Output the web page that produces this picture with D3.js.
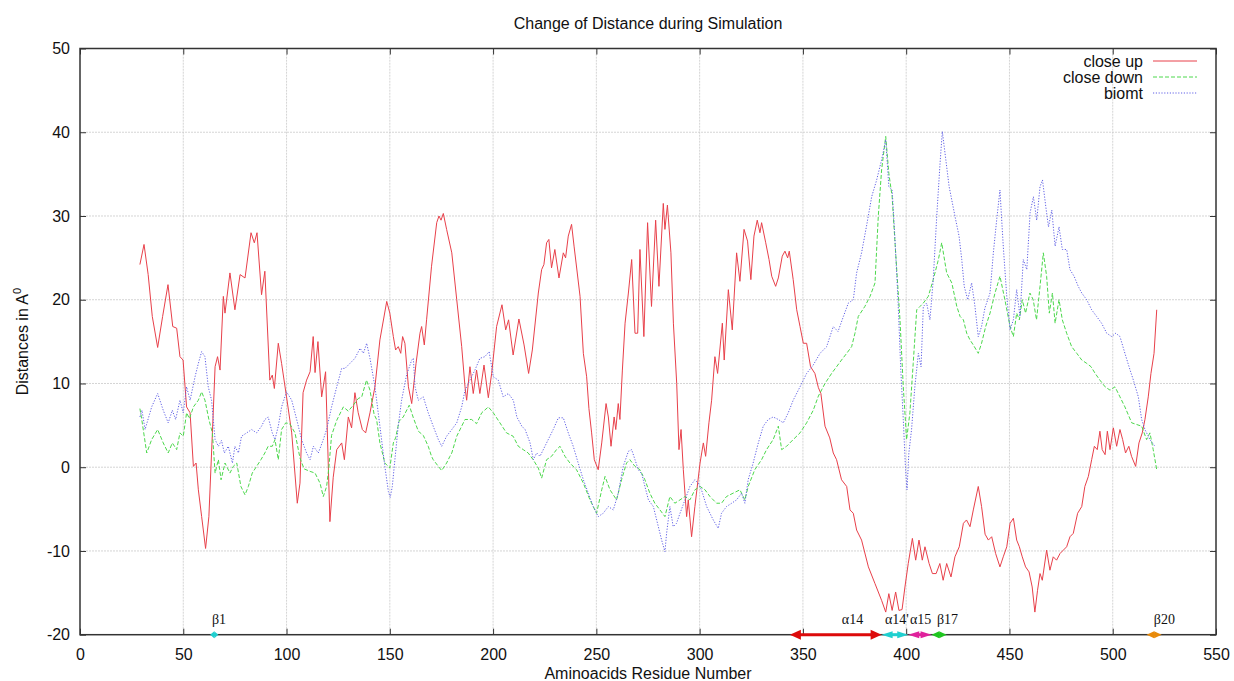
<!DOCTYPE html>
<html>
<head>
<meta charset="utf-8">
<script src="https://cdn.jsdelivr.net/npm/d3@7"></script>
<style>
  body { margin: 0; background: #ffffff; }
  svg { display: block; }
  text { font-family: "Liberation Sans", Arial, sans-serif; fill: #111; }
  .ss-label { font-family: "Liberation Serif", "Times New Roman", serif; font-size: 14px; }
</style>
</head>
<body>
<div class="content"></div>
<script>
// residue number, distance (A)
const closeUp = [
  [29,24.2],[31,26.6],[33,23],[35,18],[37.6,14.3],[40,18],[42.6,21.8],[44.9,16.8],[46.8,16.6],[48.4,13.2],[49.9,12.8],
  [51.6,7.2],[53.3,6.5],[54.9,0.1],[56.2,0.5],[57.3,-2.7],[58.9,-5.9],[60.8,-9.7],[62.4,-5.9],[64.1,4.1],[65.4,12],
  [66.6,13.2],[67.8,11.6],[69.4,20.4],[70.2,18.4],[72.6,23.2],[75,18.8],[77.5,23],[79.9,22.6],[82.8,28],[84.4,26.8],
  [85.7,28],[87.9,20.6],[89.5,23.4],[91.9,10.4],[93.1,11],[94.1,9.4],[96,14.8],[97.6,12.4],[100,8.4],[102.5,4.1],
  [105.2,-4.3],[106.5,-1.9],[108,8.9],[109.7,10.4],[111.4,11.4],[112.9,15.6],[113.8,11.3],[115.2,15],[117,8.4],
  [118.9,11.4],[121,-6.5],[122.6,-1.2],[124.3,2.1],[126.7,2.9],[128,0.9],[129.9,6],[131.5,4.7],[133.1,8.9],[134.7,6.5],
  [136.7,4.5],[138.3,4.1],[140.4,6.5],[142.8,9.6],[145.2,15.2],[148.5,19.8],[150,18.4],[151.7,15.6],[152.8,14],
  [154.1,14.4],[155.3,13.6],[156.2,15.6],[157.3,14.8],[159,9.6],[160.6,7.6],[162.7,12.4],[164.6,16],[165.4,16.8],
  [166.7,14.6],[167.8,17.6],[170.2,24],[172.7,29.2],[173.8,30],[174.8,29.5],[175.9,30.3],[177.5,28.4],[180,25.6],
  [182.4,20],[184.8,14.4],[186.4,9.6],[187.2,8],[188.8,12],[190.4,8.8],[192,11.6],[193.6,8.8],[195.6,12.2],[197.7,8.3],
  [199.3,11.2],[201.7,16.8],[204.3,19.4],[206.1,16.4],[207.5,17.6],[209.7,13.4],[212.5,17.7],[215,14.6],[217.2,11.2],
  [219,14],[221.9,20.8],[223.5,23.6],[224.6,24.2],[225.9,26.8],[227,27.2],[228.3,23.8],[229.9,26],[231.9,22.6],
  [234,25.6],[235.1,25],[236.4,27.6],[238,29],[239.2,26.4],[242.1,20.4],[243.7,13.6],[245.3,10.8],[246.4,7],
  [247.7,4.1],[249,0.9],[250.9,-0.3],[252.6,2.9],[254.7,7.6],[255.8,6],[257.1,2.5],[258.6,6],[259.4,4.5],[260.6,7.6],
  [261.4,5.7],[262.6,11.6],[263.9,17.2],[265.5,20.8],[267.1,24.8],[268.7,16],[270,16],[271.1,26],[273,15.6],
  [274.8,29.2],[276.7,19.2],[278.7,29.5],[280.3,21.6],[282.4,31.5],[283.2,28.4],[284.4,31.3],[286.1,25.6],[287.3,17.2],
  [288.9,10],[290,2.1],[291,4.5],[292.1,-0.3],[293.7,-5.9],[294.5,-3.9],[296.1,-8.3],[297.7,-4.7],[300.2,0.5],
  [301.8,2.9],[302.9,1.3],[304.5,5.3],[305.8,8],[307.4,13.2],[308.7,11.2],[311,17.2],[311.9,12.8],[313.9,21.2],
  [315.8,16.4],[317.9,25.6],[319.5,22.2],[321.5,28.4],[323.2,27],[324.8,22.4],[326.3,27.6],[327.9,29.5],[329.2,28],
  [330,29.2],[332,26.8],[333.6,24.8],[334.9,22.8],[336.8,21.6],[338.1,22.6],[340,25.2],[341.3,25.8],[342.6,25],
  [343.4,25.8],[345.3,22.4],[347,18.8],[348.6,16.8],[350.2,14.8],[351.8,14.8],[353.7,12],[355.8,11.2],[357.5,9.5],
  [358.7,8.8],[360.7,4.9],[363,3.5],[364.7,1.7],[366.3,0.9],[368.7,-1.5],[371.2,-2.3],[372.8,-5.1],[374.4,-5.5],
  [376,-7.5],[378.4,-8.7],[381.7,-11.9],[384.9,-13.9],[388.1,-15.9],[390.1,-17.3],[391.6,-15.1],[393.2,-17.1],
  [394.9,-14.9],[396.5,-17.1],[398,-17],[399.4,-14.3],[401,-11.5],[403,-8.5],[404.6,-11.1],[406.2,-8.7],[407.8,-11.1],
  [409.1,-9.5],[411.1,-11.5],[412.7,-12.7],[414.5,-12.7],[416.3,-11.5],[417.9,-13.5],[419.6,-11.5],[421.7,-13.1],
  [423.6,-10.7],[425.7,-9.5],[427.7,-6.7],[429.2,-6.3],[430.9,-7.1],[432.5,-5.1],[434.9,-2.3],[436.5,-4.7],[438.2,-8],
  [439.8,-8.7],[441.4,-8.3],[443.3,-10.3],[445.4,-11.9],[447,-10.7],[448.7,-9.5],[450.3,-6.7],[451.9,-6.1],[453.5,-8.7],
  [454.8,-9.5],[456.2,-10.7],[457.8,-11.9],[459.5,-12.5],[461,-14.3],[462.3,-17.3],[463.6,-14.7],[464.8,-12.7],
  [465.9,-13.5],[468,-9.9],[469.6,-12.3],[471.2,-10.7],[472.8,-11.1],[474.5,-10.3],[476.1,-9.9],[477.7,-9.5],
  [479.3,-8.3],[480.9,-7.9],[483,-5.5],[485,-4.7],[486.5,-2.3],[488.2,-1.1],[489.8,0.9],[491.1,2.5],[492.5,2.1],
  [493.8,4.3],[494.9,2.1],[496.3,1.5],[497.4,4.3],[498.7,2.1],[500.3,4.7],[501.9,2.5],[503.5,4.5],[504.8,3.3],
  [506.2,1.7],[507.8,2.5],[509.1,1.3],[511.1,0.1],[512.7,2.9],[514.3,4.1],[515.6,5.7],[517.2,8.4],[518.5,11.2],
  [520,13.6],[521.3,18.8]
];

const closeDown = [
  [29,7],[29.9,5.7],[32.3,1.7],[34.7,3.3],[37.6,4.5],[40.3,2.9],[42.7,1.7],[44.7,2.9],[46.8,2.1],[48.4,4.1],[50,3.7],
  [51.6,6.5],[53,5.8],[54.9,7.2],[57.3,8],[58.9,9],[60.5,8],[62.4,5.7],[64.1,4.1],[65.4,-0.7],[67,0.9],[68.3,-1.5],
  [70.2,0.5],[72.6,-0.7],[74.2,0.1],[75.9,0.5],[77.9,-2.3],[79.9,-3.3],[81.5,-2.3],[83.4,-0.7],[85.5,0.1],[87.6,0.9],
  [89.5,1.7],[91.1,2.5],[93.1,2.5],[94.4,3.3],[96,0.9],[97.6,4.5],[99.6,5.3],[101.5,5.2],[104.1,4.1],[106.5,1.1],
  [108.5,-0.2],[111.4,-0.5],[113.8,-0.7],[116.2,-1.9],[117.8,-3.5],[119.4,-2.3],[120.5,0],[121.8,3.8],[124.3,5.6],
  [127.5,7.2],[129.9,6.7],[132.3,7.4],[134.7,8.2],[136.4,8.4],[138.7,10.4],[140.4,9.2],[142.4,6.3],[143.6,5.7],
  [145.2,2.9],[147.6,0.5],[150,-0.1],[151.7,2.9],[152.8,3.5],[154.5,5.5],[156.5,6],[159.4,7.4],[161.4,5.9],
  [163.8,4.3],[166.2,3.8],[168.6,2.5],[170.2,1.3],[171,0.9],[173.5,0.1],[175.1,-0.4],[177.5,0.5],[179.1,1.3],[180,1.7],
  [182.4,3.7],[184.8,4.9],[186.4,5.7],[189.6,5.7],[192,5.2],[194.5,6.5],[197.7,7.2],[200.1,6.5],[203.3,5.3],
  [206.5,4.1],[209.7,3.7],[212.2,2.5],[214.6,2.1],[217,1.7],[219.4,0.9],[221.9,-0.1],[223.5,-1.3],[225.9,0.9],
  [228.3,1.3],[230.7,2.1],[232.4,2.5],[234.8,1.3],[237.2,0.5],[240.4,-0.3],[243.7,-1.9],[246.9,-3.9],[250.1,-5.5],
  [252.6,-2.7],[254.2,-1.1],[256.6,-2.7],[259.8,-3.9],[262.2,-1.5],[264.6,0.5],[266.2,0.9],[268.7,0.1],[271.1,-0.3],
  [273.5,-1.5],[275.9,-3.1],[278.3,-4.3],[280.8,-5.1],[283.2,-5.9],[285.6,-3.5],[288,-4.3],[290.5,-3.9],[292.9,-3.5],
  [295.3,-3.9],[297.7,-2.7],[300.2,-2.3],[302.6,-2.7],[305,-3.5],[308.2,-4.3],[310.6,-4.3],[313,-3.5],[316.2,-3.1],
  [319.5,-2.7],[321.9,-3.9],[323.5,-2.3],[326.7,-0.3],[330,0.9],[332.4,2.1],[335.6,3.3],[338.1,4.9],[339.7,2.1],
  [342.1,2.5],[345.3,3.3],[348.6,4.1],[351.8,5.3],[355,6.8],[357.5,8.5],[360.7,10],[363.9,11.2],[366.3,12],
  [368.7,12.8],[371.2,13.6],[373.6,14.4],[375.2,16],[376.8,18],[380,19.2],[382.5,20.4],[384.9,22],[386.5,30],
  [388.1,35.5],[390.1,39.5],[391.6,35.1],[393.2,32.3],[394.9,25.6],[397,17.6],[398.6,9.6],[400.2,3.3],[401.8,6.5],
  [403.4,12.4],[405.1,18.8],[406.7,19.2],[408.3,19.6],[410.7,20.4],[413.1,22.4],[415.6,24.8],[417.2,26.8],[419.6,23.2],
  [422.1,22],[424.5,19.2],[426.1,18],[427.7,17.6],[429.3,16],[430.9,15.2],[432.5,14.6],[434.9,13.6],[436.5,14.8],
  [438.5,16.8],[440.6,18.4],[443,20.8],[445.4,22.8],[447.8,20],[450.3,16.8],[451.9,15.6],[453.5,18.4],[454.8,17.6],
  [456.2,20],[457.8,18.4],[459.9,20.8],[461.5,20],[463.1,17.6],[464.8,21.6],[466.4,25.6],[468,22.8],[469.3,18.4],
  [470.8,20.8],[472.1,17.2],[474,20],[475.6,17.6],[477.7,16],[480.1,14.4],[482.6,13.6],[485,12.8],[487.4,12.4],
  [489.5,12],[491.5,11.2],[493.8,10.4],[496.3,9.6],[498.7,9.2],[501.1,9.6],[503.5,8.4],[505.9,7.2],[509.2,5.3],
  [511.6,5.1],[514,4.9],[516.4,3.3],[518,4.1],[519.6,2.1],[521.3,-0.3]
];

const biomt = [
  [29,6],[30,6.8],[31.5,4.5],[34.7,7.2],[37.6,8.8],[40.3,6.8],[42.7,5.3],[44.7,6.8],[46.3,5.7],[48.4,8],[50,6.5],
  [51.6,9.6],[53.3,8],[55.7,10.8],[57.3,12.4],[58.9,13.8],[60.5,13.2],[62.1,9.6],[63.7,8],[65.4,3.3],[67,2.5],
  [68.5,3.2],[69.9,1.7],[71.8,2.5],[73.8,0.5],[75,2.5],[76.7,1.7],[78.2,3.7],[80.7,4.1],[83.1,4.5],[85.5,4.1],
  [87.9,4.9],[89.5,5.7],[91.1,6],[93.1,4.1],[94.4,3.3],[96,4.9],[97.6,7.2],[100,9],[102.5,8],[104.9,5.7],[107.3,3.3],
  [109.7,1.7],[111.4,0.9],[113,2.5],[115.4,1.7],[117.8,3.3],[119.4,4.5],[121.8,7.2],[124.3,9.6],[126.7,11.8],
  [128.3,11.8],[130.7,12.4],[133.1,13],[135.6,14.2],[137.2,13.6],[138.8,14.8],[140.4,13],[142.8,9.6],[145.2,4.9],
  [147.6,0.1],[149.3,-2.9],[150.2,-3.6],[151.2,-2.3],[152.5,1],[154.1,5],[155.7,8],[158.1,11],[160.6,12.8],
  [161.4,13],[162.2,9.6],[163.8,8],[166.2,8.4],[168.6,6.5],[171,4.9],[173.5,3.3],[175.1,2.5],[177.5,3.7],[180,4.5],
  [182.4,5.3],[184.8,7.2],[186.4,9.2],[188.8,10.4],[191.2,11.6],[193.6,13],[196,13.2],[198.1,13.8],[200.1,10.8],
  [202.5,10.4],[204.9,8.4],[207.4,8.8],[209.8,8],[211.5,6],[213.9,4.9],[215.5,4.5],[217.9,2.9],[219.5,0.9],
  [221.1,1.7],[222.7,1.3],[225.9,2.9],[229.1,4.5],[231.6,5.9],[234,5.9],[236.4,4.1],[238.8,2.5],[241.2,0.5],
  [243.7,-1.5],[246.1,-3.1],[248.5,-4.7],[250.9,-5.9],[253.3,-5.5],[255.8,-4.7],[258.2,-5.1],[260.6,-3.1],[263,0.1],
  [265.5,1.9],[267.1,2.1],[268.7,0.9],[270.3,-0.3],[272,-0.8],[273.5,-2.3],[275.2,-3.9],[277.6,-4.7],[280,-7.1],
  [281.6,-8.7],[283.2,-10.1],[284,-7.9],[285.6,-4.7],[287.2,-7.1],[288.8,-6.7],[290.5,-5.5],[292.9,-3.9],[295.3,-2.3],
  [297.7,-1.5],[299.3,-1.9],[300.9,-2.7],[303.4,-4.7],[306.6,-6.3],[309,-7.3],[310.6,-5.5],[313,-4.7],[315.5,-4.3],
  [317.9,-3.9],[320.3,-3.1],[321.9,-4.3],[323.5,-1.5],[325.9,0.5],[328.4,2.9],[330.8,4.9],[333.2,5.7],[335.6,6],
  [338.1,5.7],[340.5,5.3],[342.9,6.5],[345.3,8],[348.6,9.6],[351.8,11.2],[355,12.2],[358.3,13.6],[361.5,14.4],
  [364.7,16.8],[367,16.2],[369.6,18],[372,19.6],[374.4,20],[376,23.2],[378.4,25.6],[380.8,28.8],[383.3,32.3],
  [385.7,34.3],[388.1,36.7],[390.1,39.1],[391.6,33.5],[393.2,33.1],[394.5,27.6],[396.1,19.6],[397.4,11.6],[398.6,5.7],
  [399.7,-0.3],[400.4,-2.7],[401.3,1.7],[402.6,4.5],[404.2,9.6],[405.9,13.6],[407.2,12],[408.3,19.2],[409.9,19.6],
  [411.5,17.6],[413.1,22.4],[414.8,30],[416.4,36.3],[417.5,40.1],[419.2,36.7],[420.8,33.5],[422.4,31.5],[424,29.5],
  [425.6,27.6],[426.9,24.8],[428.1,21.6],[429.8,20],[431.7,22],[433.3,19.2],[434.9,15.6],[436.5,16.8],[438.1,19],
  [440.6,20.8],[442.2,25.6],[443.8,29.5],[445.4,33.1],[447,26.4],[448.7,20.4],[450.3,16.4],[451.9,17.6],[453.5,21.2],
  [455.1,18],[456.7,24.8],[458.4,23.6],[460,30.4],[461.6,32.3],[463.2,29.5],[464.8,33.5],[466,34.3],[467.6,31.1],
  [468.9,28.7],[470.5,30.7],[472.1,26.4],[474,28.7],[475.6,26],[477.7,26],[479.3,23.6],[481.3,22.8],[483.3,21.6],
  [485,20.8],[487.4,20],[489.8,18.8],[492.2,18],[494.6,17.2],[497.1,16],[499.5,15.6],[501.5,16],[503.5,15.6],
  [505.9,13.6],[508.4,11.6],[510,10.4],[512.4,8.4],[514,5.7],[515.6,4.5],[518,3.3],[520.4,2.5]
];

const seriesNames = ["close up", "close down", "biomt"];
const xTicks = [0, 50, 100, 150, 200, 250, 300, 350, 400, 450, 500, 550];
const yTicks = [-20, -10, 0, 10, 20, 30, 40, 50];

// secondary structure elements along the residue axis
const ssNames = ["β1", "α14", "α14'", "α15", "β17", "β20"];
const ssStart = [63, 343.7, 388.1, 401, 412.3, 516.4];
const ssEnd = [67, 388.1, 401, 412.3, 419.6, 523.7];
const ssLabelAt = [67.3, 374, 395.5, 407, 420, 525];

const width = 1234;
const height = 681;
const margin = { top: 48.5, right: 18, bottom: 46.3, left: 80 };

const colors = ["#e8404a", "#4cd84c", "#6060e6"];
const dashes = [null, "4,2", "1.2,1.6"];
const ssColors = ["#1fcfcf", "#dd0a0a", "#1fcfcf", "#e0219c", "#1fc61f", "#e88a0a"];

const svg = d3.select(".content").append("svg")
    .attr("width", width)
    .attr("height", height);

const x = d3.scaleLinear().domain([0, 550]).range([margin.left, width - margin.right]);
const y = d3.scaleLinear().domain([-20, 50]).range([height - margin.bottom, margin.top]);

// grid
svg.append("g")
    .selectAll("line")
    .data(xTicks.slice(1, -1))
    .join("line")
    .attr("x1", d => x(d)).attr("x2", d => x(d))
    .attr("y1", y(-20)).attr("y2", y(50))
    .attr("stroke", "#c9c9c9")
    .attr("stroke-width", 0.8)
    .attr("stroke-dasharray", "2,1");

svg.append("g")
    .selectAll("line")
    .data(yTicks.slice(1, -1))
    .join("line")
    .attr("x1", x(0)).attr("x2", x(550))
    .attr("y1", d => y(d)).attr("y2", d => y(d))
    .attr("stroke", "#c9c9c9")
    .attr("stroke-width", 0.8)
    .attr("stroke-dasharray", "2,1");

// axes, gnuplot style: ticks inside, mirrored, plain hyphen minus
const tickLen = 6;
const plain = d => String(d);
svg.append("g")
    .attr("transform", `translate(0,${y(-20)})`)
    .call(d3.axisBottom(x).tickValues(xTicks).tickSize(-tickLen).tickPadding(14).tickFormat(plain))
    .call(g => g.select(".domain").remove())
    .call(g => g.selectAll("text").attr("font-size", 16).attr("font-family", "Liberation Sans, Arial, sans-serif").attr("fill", "#111"));

svg.append("g")
    .attr("transform", `translate(0,${y(50)})`)
    .call(d3.axisTop(x).tickValues(xTicks).tickSize(-tickLen).tickFormat(""))
    .call(g => g.select(".domain").remove());

svg.append("g")
    .attr("transform", `translate(${x(0)},0)`)
    .call(d3.axisLeft(y).tickValues(yTicks).tickSize(-tickLen).tickPadding(10).tickFormat(plain))
    .call(g => g.select(".domain").remove())
    .call(g => g.selectAll("text").attr("font-size", 16).attr("font-family", "Liberation Sans, Arial, sans-serif").attr("fill", "#111"));

svg.append("g")
    .attr("transform", `translate(${x(550)},0)`)
    .call(d3.axisRight(y).tickValues(yTicks).tickSize(-tickLen).tickFormat(""))
    .call(g => g.select(".domain").remove());

svg.selectAll(".tick line").attr("stroke", "#333");

// data lines
const line = d3.line()
    .x(d => x(d[0]))
    .y(d => y(d[1]));

[closeUp, closeDown, biomt].forEach((data, i) => {
    svg.append("path")
        .datum(data)
        .attr("fill", "none")
        .attr("stroke", colors[i])
        .attr("stroke-width", 1)
        .attr("stroke-dasharray", dashes[i])
        .attr("d", line);
});

// frame
svg.append("rect")
    .attr("x", x(0))
    .attr("y", y(50))
    .attr("width", x(550) - x(0))
    .attr("height", y(-20) - y(50))
    .attr("fill", "none")
    .attr("stroke", "#333")
    .attr("stroke-width", 1.5);

// secondary structure arrows
const axisY = y(-20);
ssNames.forEach((name, i) => {
    const x0 = x(ssStart[i]);
    const x1 = x(ssEnd[i]);
    const len = x1 - x0;
    const head = Math.min(11, len / 2);
    const half = len > 40 ? 5 : 3.5;
    const g = svg.append("g").attr("fill", ssColors[i]).attr("stroke", ssColors[i]);
    g.append("line")
        .attr("x1", x0 + head * 0.8).attr("x2", x1 - head * 0.8)
        .attr("y1", axisY).attr("y2", axisY)
        .attr("stroke-width", 3);
    g.append("path")
        .attr("stroke", "none")
        .attr("d", `M${x0},${axisY} L${x0 + head},${axisY - half} L${x0 + head},${axisY + half} Z`);
    g.append("path")
        .attr("stroke", "none")
        .attr("d", `M${x1},${axisY} L${x1 - head},${axisY - half} L${x1 - head},${axisY + half} Z`);

    svg.append("text")
        .attr("class", "ss-label")
        .attr("x", x(ssLabelAt[i]))
        .attr("y", axisY - 11)
        .attr("text-anchor", "middle")
        .text(name);
});

// title and axis labels
svg.append("text")
    .attr("x", 648)
    .attr("y", 29)
    .attr("text-anchor", "middle")
    .attr("font-size", 16)
    .text("Change of Distance during Simulation");

svg.append("text")
    .attr("x", 648)
    .attr("y", 679)
    .attr("text-anchor", "middle")
    .attr("font-size", 16)
    .text("Aminoacids Residue Number");

const yLabel = svg.append("text")
    .attr("transform", `translate(28,${(y(50) + y(-20)) / 2}) rotate(-90)`)
    .attr("text-anchor", "middle")
    .attr("font-size", 16);
yLabel.append("tspan").text("Distances in A");
yLabel.append("tspan").attr("font-size", 11).attr("dy", -7).text("0");

// legend
const legend = svg.append("g");
seriesNames.forEach((name, i) => {
    const ly = 61 + i * 16;
    legend.append("text")
        .attr("x", 1143)
        .attr("y", ly)
        .attr("dy", "0.35em")
        .attr("text-anchor", "end")
        .attr("font-size", 16)
        .text(name);
    legend.append("line")
        .attr("x1", 1153).attr("x2", 1197)
        .attr("y1", ly).attr("y2", ly)
        .attr("stroke", colors[i])
        .attr("stroke-width", 1)
        .attr("stroke-dasharray", dashes[i]);
});
</script>
</body>
</html>
